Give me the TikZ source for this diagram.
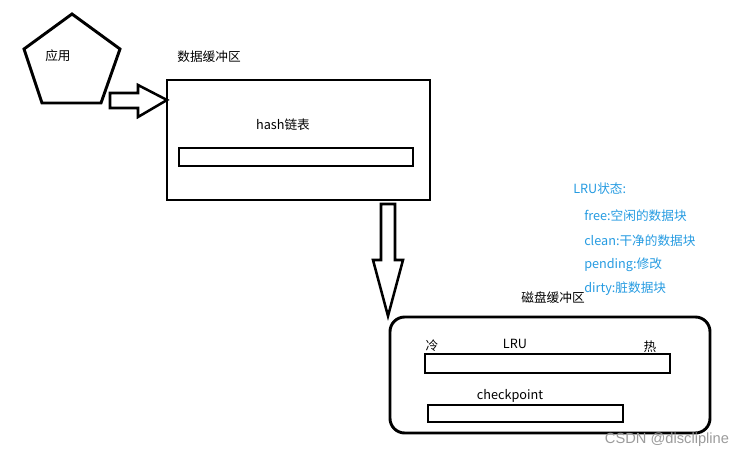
\documentclass[tikz,border=0pt]{standalone}
\usepackage{fontspec}
\setmainfont{Noto Sans CJK SC}
\setsansfont{Noto Sans CJK SC}
\newfontfamily\markfont{Liberation Sans}
\definecolor{lrublue}{RGB}{38,155,225}
\definecolor{markgray}{RGB}{155,155,155}

\begin{document}
\begin{tikzpicture}[x=0.75pt,y=-0.75pt,
    box/.style={line width=2.2pt},
    blockarrow/.style={line width=1.9pt, line join=miter},
    lbl/.style={font=\fontsize{9.5pt}{11pt}\selectfont, inner sep=0pt},
    stat/.style={lbl, text=lrublue, anchor=west}]
   \useasboundingbox (0,0) rectangle (750,458);
   % application
   \draw[box] (72,14) -- (120,49) -- (101,103) -- (42,103) -- (24,49) -- cycle;
   \node[lbl] (app) at (58,56) {应用};
   \draw[blockarrow] (110,93) -- (138,93) -- (138,85) -- (167,100) -- (138,117) -- (138,108) -- (110,108) -- cycle;
   % data buffer
   \node[lbl] (databuf) at (209,57) {数据缓冲区};
   \draw[box] (167,80) rectangle (430,200);
   \node[lbl] (hash) at (283,125) {hash链表};
   \draw[box] (179,148) rectangle (413,166);
   \draw[blockarrow] (381,204) -- (395,204) -- (395,260) -- (403,260) -- (388,316) -- (373,260) -- (381,260) -- cycle;
   % LRU states
   \node[stat] (lrustate) at (573,189) {LRU状态:};
   \node[stat] (free) at (584,216) {free:空闲的数据块};
   \node[stat] (clean) at (584,241) {clean:干净的数据块};
   \node[stat] (pending) at (584,265) {pending:修改};
   \node[stat] (dirty) at (584,289) {dirty:脏数据块};
   % disk buffer
   \node[lbl] (diskbuf) at (553,298) {磁盘缓冲区};
   \draw[box, rounded corners=11pt] (390,317) rectangle (710,433);
   \node[lbl] (lru) at (515,344) {LRU};
   \node[lbl] (cold) at (432,346) {冷};
   \node[lbl] (hot) at (650,347) {热};
   \draw[box] (425,354) rectangle (670,373);
   \node[lbl] (ckpt) at (510,396) {checkpoint};
   \draw[box] (428,405) rectangle (623,422);
   \node[lbl, text=markgray, font=\markfont\fontsize{11pt}{13pt}\selectfont] (mark) at (667,440) {CSDN @disclipline};
\end{tikzpicture}
\end{document}
